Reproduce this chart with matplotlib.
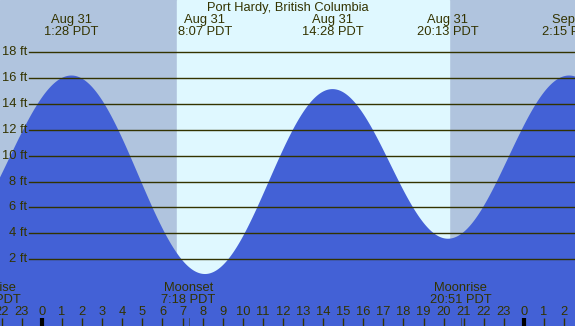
import matplotlib.pyplot as plt
import numpy as np

# tide extremes (hours from Aug 31 0:00 PDT, feet)
tide_hours = [-4.73, 1.467, 8.117, 14.467, 20.217, 26.25, 32.83]
tide_feet = [3.4, 16.2, 0.85, 15.15, 3.58, 16.2, 0.9]
extreme_labels = ["", "Aug 31\n1:28 PDT", "Aug 31\n8:07 PDT", "Aug 31\n14:28 PDT",
                  "Aug 31\n20:13 PDT", "Sep 1\n2:15 PDT", ""]

sunrise, sunset = 6.72, 20.27
moon_hours = [-2.6, 7.3, 20.85]
moon_labels = ["Moonrise\n21:24 PDT", "Moonset\n7:18 PDT", "Moonrise\n20:51 PDT"]

ft_levels = [2, 4, 6, 8, 10, 12, 14, 16, 18]

night = "#b0c4de"
day = "#dff8ff"
water = "#4361d6"
ink = "#333300"

plt.rcParams["font.family"] = ["Liberation Sans", "DejaVu Sans"]

fig = plt.figure(figsize=(5.75, 3.26), dpi=100)
ax = fig.add_axes([0, 0, 1, 1])
px = 20.08  # pixels per hour
x0, x1 = -42 / px, (575 - 42) / px
ax.set_xlim(x0, x1)
ax.set_ylim(-3.17, 22.04)
ax.axis("off")

# night / day background
ax.axvspan(x0, x1, color=night, zorder=0)
ax.axvspan(sunrise, sunset, color=day, zorder=0)

# tide curve: cosine between extremes
t = np.linspace(x0, x1, 800)
h = np.empty_like(t)
for i in range(len(tide_hours) - 1):
    ta, tb = tide_hours[i], tide_hours[i + 1]
    ha, hb = tide_feet[i], tide_feet[i + 1]
    m = (t >= ta) & (t <= tb)
    f = (1 - np.cos(np.pi * (t[m] - ta) / (tb - ta))) / 2
    h[m] = ha + (hb - ha) * f
ax.fill_between(t, -5, h, color=water, lw=0, zorder=1)

# height grid
for lv in ft_levels:
    ax.plot([-0.65, x1], [lv, lv], color=ink, lw=1, zorder=2)
    ax.text(-0.75, lv, f"{lv} ft", ha="right", va="center", fontsize=9.3, color=ink)

ax.text((x0 + x1) / 2, 21.45, "Port Hardy, British Columbia",
        ha="center", va="center", fontsize=9.3, color=ink)

for th, lab in zip(tide_hours, extreme_labels):
    if lab:
        ax.text(th, 20.04, lab, ha="center", va="center", fontsize=9.3,
                color=ink, linespacing=1.02)

for mh, lab in zip(moon_hours, moon_labels):
    ax.text(mh, -0.7, lab, ha="center", va="center", fontsize=9.3,
            color=ink, linespacing=0.97)
    ax.plot([mh, mh], [-2.55, -3.17], color=ink, lw=0.6, alpha=0.6, zorder=3)

# hour ticks and labels
for hr in range(-2, 27):
    ax.text(hr, -2.09, str(hr % 24), ha="center", va="center", fontsize=9.3, color=ink)
    ax.plot([hr, hr], [-2.55, -3.17], color="black" if hr % 24 == 0 else ink,
            lw=3 if hr % 24 == 0 else 1, solid_capstyle="butt", zorder=3)

fig.savefig("out.png", dpi=100)
